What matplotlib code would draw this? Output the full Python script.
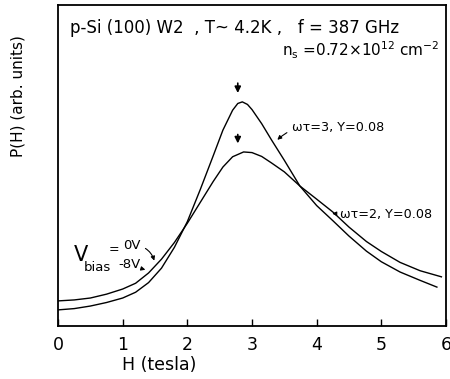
import matplotlib
matplotlib.use("Agg")
import matplotlib.pyplot as plt

# omega*tau = 3 curve (sharper peak)
h_sharp = [0, 0.25, 0.5, 0.75, 1.0, 1.2, 1.4, 1.6, 1.8, 2.0, 2.2, 2.4, 2.55, 2.7,
           2.78, 2.85, 2.93, 3.0, 3.15, 3.3, 3.5, 3.74, 4.0, 4.25, 4.5, 4.77,
           5.0, 5.29, 5.6, 5.86]
p_sharp = [0.50, 0.54, 0.62, 0.73, 0.87, 1.05, 1.35, 1.80, 2.45, 3.25, 4.25, 5.30,
           6.10, 6.72, 6.93, 6.98, 6.90, 6.74, 6.30, 5.80, 5.16, 4.36, 3.75, 3.28,
           2.80, 2.33, 2.00, 1.68, 1.42, 1.21]

# omega*tau = 2 curve (broader peak)
h_broad = [0, 0.25, 0.5, 0.75, 1.0, 1.2, 1.4, 1.6, 1.8, 2.0, 2.2, 2.4, 2.55, 2.7,
           2.87, 3.0, 3.15, 3.3, 3.5, 3.74, 4.0, 4.25, 4.5, 4.77, 5.0, 5.29,
           5.6, 5.93]
p_broad = [0.78, 0.81, 0.87, 0.99, 1.15, 1.33, 1.65, 2.08, 2.60, 3.20, 3.85, 4.50,
           4.95, 5.27, 5.42, 5.40, 5.28, 5.08, 4.80, 4.36, 3.95, 3.55, 3.08, 2.63,
           2.32, 1.98, 1.72, 1.53]

x_ticks = [0, 1, 2, 3, 4, 5, 6]

fig = plt.figure(figsize=(4.5, 3.79), dpi=100)
ax = fig.add_axes([0.129, 0.140, 0.862, 0.847])

ax.plot(h_sharp, p_sharp, color="black", lw=1.0)
ax.plot(h_broad, p_broad, color="black", lw=1.0)

ax.set_xlim(0, 6)
ax.set_ylim(0, 10)
ax.set_xticks(x_ticks)
ax.set_yticks([])
ax.tick_params(axis="x", direction="in", length=5, width=1, labelsize=12.5, pad=7)
for s in ax.spines.values():
    s.set_linewidth(1.3)

# header text
ax.text(0.19, 9.28, "p-Si (100) W2  , T~ 4.2K ,   f = 387 GHz", fontsize=12,
        va="center", ha="left")
ax.text(5.9, 8.6, r"n$_{\rm s}$ =0.72×10$^{12}$ cm$^{-2}$", fontsize=11,
        va="center", ha="right")

# peak arrows
arrow_kw = dict(arrowstyle="-|>", color="black", lw=1.2, mutation_scale=9)
ax.annotate("", xy=(2.78, 7.17), xytext=(2.78, 7.65), arrowprops=arrow_kw)
ax.annotate("", xy=(2.78, 5.6), xytext=(2.78, 6.05), arrowprops=arrow_kw)

# curve labels
lab_kw = dict(arrowstyle="-|>", color="black", lw=0.8, mutation_scale=6)
ax.annotate("ωτ=3, Y=0.08", xy=(3.36, 5.74), xytext=(3.62, 6.17),
            fontsize=9.2, va="center", ha="left",
            arrowprops=dict(lab_kw, connectionstyle="arc3,rad=0.3"))
ax.annotate("ωτ=2, Y=0.08", xy=(4.24, 3.5), xytext=(4.36, 3.46),
            fontsize=9.2, va="center", ha="left", arrowprops=lab_kw)

# bias labels
ax.text(0.24, 2.2, "V", fontsize=15, va="center", ha="left")
ax.text(0.40, 1.82, "bias", fontsize=9.5, va="center", ha="left")
ax.text(0.78, 2.38, "=", fontsize=9, va="center", ha="left")
ax.annotate("0V", xy=(1.5, 1.95), xytext=(1.0, 2.52), fontsize=9.5,
            va="center", ha="left",
            arrowprops=dict(lab_kw, connectionstyle="arc3,rad=-0.4"))
ax.annotate("-8V", xy=(1.35, 1.75), xytext=(0.93, 1.9), fontsize=9.5,
            va="center", ha="left", arrowprops=lab_kw)

fig.text(18 / 450, 1 - 35 / 379, "P(H) (arb. units)", rotation=90, fontsize=11,
         va="top", ha="center")
fig.text(159 / 450, 1 - 365 / 379, "H (tesla)", fontsize=12.5, va="center", ha="center")

fig.savefig("out.png", dpi=100)
